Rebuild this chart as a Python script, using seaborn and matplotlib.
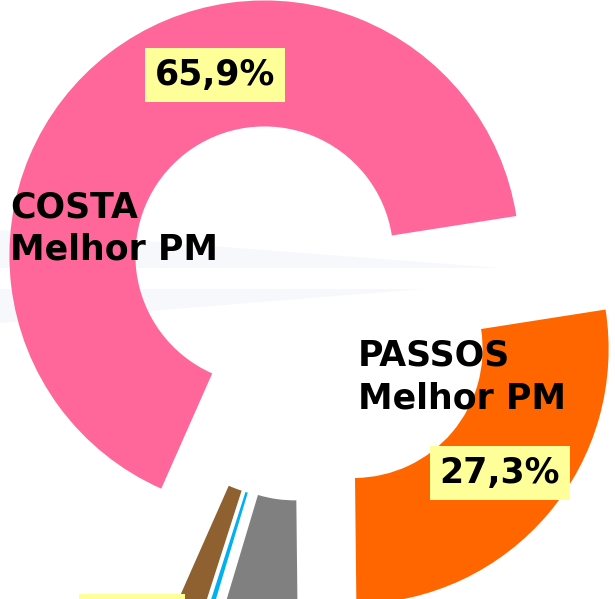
import matplotlib
matplotlib.use("Agg")
import matplotlib.pyplot as plt
from matplotlib.patches import Rectangle, Polygon
import seaborn as sns

# slices, counter-clockwise from the right
labels = ["COSTA", "Outros", "Brancos", "Indecisos", "PASSOS"]
values = [65.9, 1.7, 0.3, 4.8, 27.3]
colors = ["#FF6699", "#8F6030", "#00B0F0", "#808080", "#FF6600"]

sns.set_theme(style="white")
plt.rcParams["font.family"] = ["DejaVu Sans"]

W, H = 615, 599
fig = plt.figure(figsize=(W / 100, H / 100), dpi=100)
ax = fig.add_axes([0, 0, 1, 1])

# faint streaks in the background
ax.add_patch(Polygon([(0, H - 230), (500, H - 268), (0, H - 268)],
                     closed=True, fc="#F7F8FB", ec="none", zorder=0))
ax.add_patch(Polygon([(0, H - 289), (423, H - 289), (0, H - 323)],
                     closed=True, fc="#F7F8FB", ec="none", zorder=0))

# explode is in data units here (pixels)
ax.pie(values, colors=colors, startangle=8.9, counterclock=True,
       center=(304, H - 307), radius=255, explode=[65] * len(values),
       wedgeprops=dict(width=126, linewidth=0, zorder=1))

ax.set_xlim(0, W)
ax.set_ylim(0, H)
ax.set_aspect("auto")
ax.axis("off")

fs = 25
box = dict(boxstyle="square,pad=0.28", fc="#FFFF99", ec="none")

ax.text(10, H - 190, "COSTA\nMelhor PM", fontsize=fs, fontweight="bold",
        ha="left", va="top", linespacing=1.3, color="black", zorder=3)
ax.text(358, H - 339, "PASSOS\nMelhor PM", fontsize=fs, fontweight="bold",
        ha="left", va="top", linespacing=1.3, color="black", zorder=3)

ax.text(215, H - 75, "65,9%", fontsize=fs, fontweight="bold", color="black",
        ha="center", va="center", bbox=box, zorder=3)
ax.text(500, H - 473, "27,3%", fontsize=fs, fontweight="bold", color="black",
        ha="center", va="center", bbox=box, zorder=3)
# top of the label box of the small slices, cut off by the bottom edge
ax.add_patch(Rectangle((79, 0), 106, H - 594, fc="#FFFF99", ec="none", zorder=3))

fig.savefig("out.png", dpi=100)
